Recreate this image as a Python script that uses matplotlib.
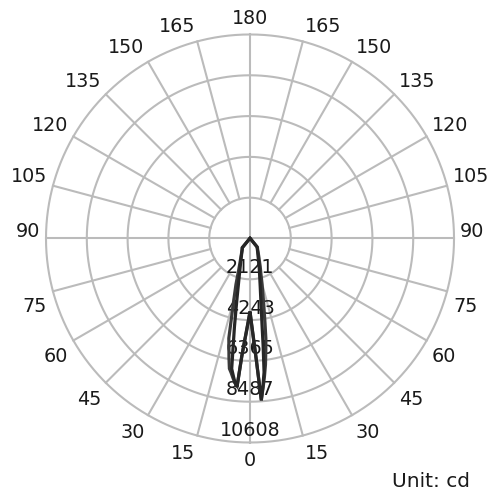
import numpy as np
import matplotlib
matplotlib.use("Agg")
import matplotlib.pyplot as plt

# ---- data ----
gamma = [0, 1, 2, 3, 4, 5, 6, 7, 8, 9, 10, 12, 15, 17, 20, 25, 30, 35, 40, 45, 50,
         60, 75, 90, 105, 120, 135, 150, 165, 180]

# curve A: C0 (right half) / C180 (left half)
a_c0 = [3800, 4400, 5180, 6320, 8450, 7700, 6990, 5590, 4470, 3760, 3240, 2550, 1920, 1650,
        1320, 980, 790, 660, 560, 90, 20, 0, 0, 0, 0, 0, 0, 0, 0, 0]
a_c180 = [3800, 4200, 4690, 5300, 6100, 7750, 7520, 7170, 6840, 5550, 4660, 3310, 2250, 1850,
          1460, 1075, 855, 710, 620, 90, 20, 0, 0, 0, 0, 0, 0, 0, 0, 0]
# curve B: C90 (right half) / C270 (left half)
b_c90 = [3800, 4450, 5250, 6400, 8400, 7800, 7200, 6600, 5900, 5270, 4500, 3400, 2400, 1950,
         1550, 1100, 850, 690, 600, 100, 25, 0, 0, 0, 0, 0, 0, 0, 0, 0]
b_c270 = [3800, 4250, 4750, 5350, 6200, 7700, 7550, 7300, 7050, 6850, 6300, 5300, 3200, 2500,
          1700, 1150, 880, 720, 630, 100, 25, 0, 0, 0, 0, 0, 0, 0, 0, 0]

r_max = 10608
ring_labels = ["2121", "4243", "6365", "8487", "10608"]
angle_ticks = [0, 15, 30, 45, 60, 75, 90, 105, 120, 135, 150, 165, 180]

grid_color = "#bbbbbb"
text_color = "#1a1a1a"
fs = 13.8
px = 72 / 100  # points per pixel

fig = plt.figure(figsize=(4.89, 4.90), dpi=100)
ax = fig.add_axes([0.09407, 0.09694, 0.8344, 0.8327], projection="polar")
ax.set_theta_zero_location("S")
ax.set_theta_direction(1)
ax.set_ylim(0, r_max)
ax.grid(False)
ax.set_xticks([])
ax.set_yticks([])
ax.spines["polar"].set_visible(False)
ax.patch.set_visible(False)

rings = [r_max * (i + 1) / 5 for i in range(5)]
th_full = np.linspace(0, 2 * np.pi, 361)
for r in rings:
    ax.plot(th_full, [r] * len(th_full), color=grid_color, lw=1.5, zorder=1, clip_on=False)

for deg in range(0, 360, 15):
    t = np.deg2rad(deg)
    r0 = 0 if deg % 90 == 0 else rings[0]
    ax.plot([t, t], [r0, r_max], color=grid_color, lw=1.5, zorder=1, clip_on=False)

# angle labels, anchored at the outer ring end of each spoke
def angle_label(g, side):
    t = np.deg2rad(g * side)
    s = abs(np.sin(np.deg2rad(g)))
    c = np.cos(np.deg2rad(g))
    if g in (0, 180):
        ha, dx = "center", 0
    else:
        ha = "left" if side > 0 else "right"
        dx = side * (1 + 5 * s)
    if g >= 90:
        va, dy = "baseline", 1 + 9 * abs(c)
    else:
        va, dy = "top", -(4 + 5 * c)
    ax.annotate(str(g), xy=(t, r_max), xytext=(dx * px, dy * px), textcoords="offset points",
                ha=ha, va=va, fontsize=fs, color=text_color, annotation_clip=False)

for g in angle_ticks:
    angle_label(g, 1)
    if 0 < g < 180:
        angle_label(g, -1)

# ring labels
off = r_max * 12 / 204
for r, lab in zip(rings, ring_labels):
    ax.text(0, r - off, lab, ha="center", va="center", fontsize=fs, color=text_color, zorder=2)

def full_curve(right, left):
    g = np.array(gamma, dtype=float)
    th = np.concatenate([-g[::-1], g[1:]])
    rr = np.concatenate([np.array(left)[::-1], np.array(right)[1:]])
    return np.deg2rad(th), rr

th, rr = full_curve(b_c90, b_c270)
ax.plot(th, rr, color="#3a3a3a", lw=2.3, zorder=3, solid_joinstyle="miter")
th, rr = full_curve(a_c0, a_c180)
ax.plot(th, rr, color="#262626", lw=2.3, zorder=4, solid_joinstyle="miter")

fig.text(470 / 489, 1 - 481.5 / 490, "Unit: cd", ha="right", va="center", fontsize=14.5,
         color=text_color)

fig.savefig("out.png", dpi=100)
